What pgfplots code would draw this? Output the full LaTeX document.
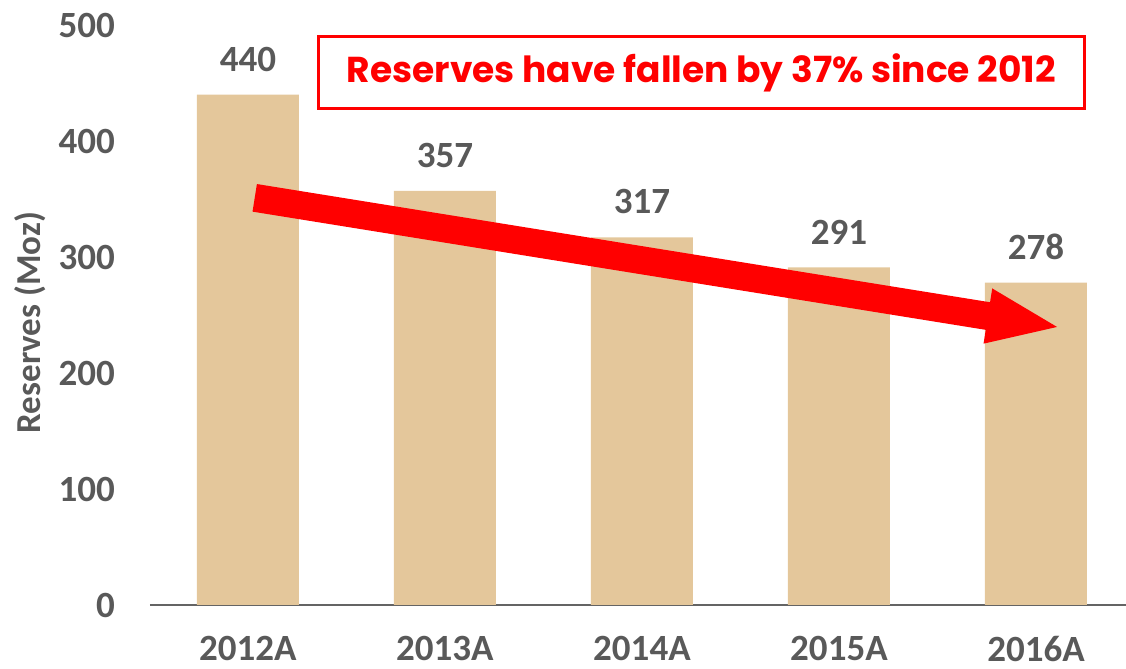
\documentclass[border=0pt]{standalone}
\usepackage{pgfplots}
\pgfplotsset{compat=1.18}
\usepackage{fontspec}
\setmainfont{Carlito}[BoldFont={Carlito Bold}]
\newfontfamily\titlefont{Poppins}
\definecolor{barcol}{RGB}{228,199,155}
\definecolor{txtgray}{RGB}{89,89,89}
\definecolor{axgray}{RGB}{100,100,100}
\begin{document}
\begin{tikzpicture}
\begin{axis}[
  at={(0,0)}, anchor=south west,
  scale only axis,
  width=488pt, height=290pt,
  xmin=-0.497, xmax=4.457,
  ymin=0, ymax=500,
  ytick={0,100,200,300,400,500},
  xtick={0,1,2,3,4},
  xticklabels={2012A,2013A,2014A,2015A,2016A},
  axis x line*=bottom,
  axis y line*=left,
  x axis line style={draw=axgray, line width=1pt, -},
  y axis line style={draw=none},
  xtick style={draw=none},
  ytick style={draw=none},
  ylabel={Reserves (Moz)},
  ylabel style={at={(axis description cs:0,0.487)}, anchor=center, yshift=60pt},
  ticklabel style={font=\fontsize{18.5}{20}\selectfont\bfseries, text=txtgray},
  xticklabel style={yshift=-12pt},
  yticklabel style={xshift=-14pt},
  label style={font=\fontsize{17.5}{19}\selectfont\bfseries, text=txtgray},
  /pgf/number format/assume math mode=true,
  clip=false,
]
\addplot[ybar, bar width=51pt, fill=barcol, draw=none,
  nodes near coords,
  nodes near coords style={font=\fontsize{18.5}{20}\selectfont\bfseries, text=txtgray, anchor=south, yshift=8pt},
] coordinates {(0,440) (1,357) (2,317) (3,291) (4,278)};
% arrow
\fill[red] (axis cs:0.0457,362.9) -- (axis cs:3.767,261.0) -- (axis cs:3.778,272.9) -- (axis cs:4.107,239.7) -- (axis cs:3.734,225.3) -- (axis cs:3.745,237.2) -- (axis cs:0.0234,339.1) -- cycle;
% text box
\draw[red, line width=1.5pt] (axis cs:0.360,489.7) rectangle (axis cs:4.244,428.4);
\node[text=red, font=\titlefont\fontsize{18}{20}\selectfont\bfseries] at (axis cs:2.302,459.1) {Reserves have fallen by 37\% since 2012};
\end{axis}
\pgfresetboundingbox
\path (-75pt,-32pt) rectangle (488pt,302.5pt);
\end{tikzpicture}
\end{document}
